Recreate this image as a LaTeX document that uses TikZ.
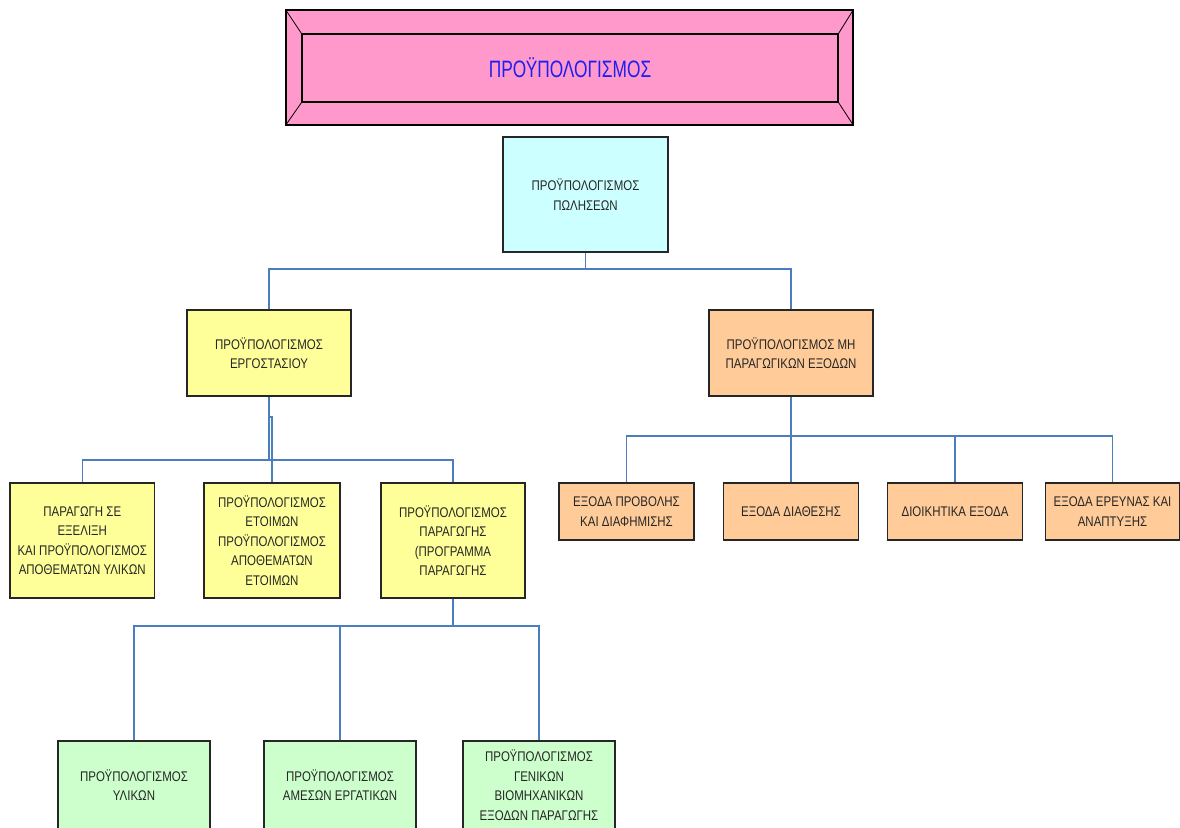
\documentclass[tikz,border=0pt]{standalone}
\usepackage{fontspec}
\setmainfont{Liberation Sans}
\newfontfamily\boxfont[FakeStretch=0.82]{Liberation Sans}
\newfontfamily\titlefont[FakeStretch=0.73]{Liberation Sans}
\definecolor{titlefill}{HTML}{FF99CC}
\definecolor{titletext}{HTML}{1E1EF0}
\definecolor{salesfill}{HTML}{CCFFFF}
\definecolor{factfill}{HTML}{FFFF99}
\definecolor{costfill}{HTML}{FFCC99}
\definecolor{prodfill}{HTML}{CCFFCC}
\definecolor{linkblue}{HTML}{4A7EBF}
\begin{document}
\begin{tikzpicture}[x=1pt,y=-1pt,
  box/.style={draw=black!85, line width=1.1pt, align=center, inner sep=0pt,
    font=\boxfont\fontsize{14}{19.5}\selectfont, text=black!85},
  link/.style={draw=linkblue, line width=1.1pt}]
\useasboundingbox (0,0) rectangle (1180,827);

% title panel with bevelled frame
\node[draw=black, line width=1.1pt, fill=titlefill, minimum width=567, minimum height=115, inner sep=0pt] (title) at (569.5,67.5) {};
\node[draw=black, line width=1.1pt, fill=titlefill, minimum width=536, minimum height=68, inner sep=0pt,
  font=\titlefont\fontsize{23.7}{28}\selectfont, text=titletext] (titlein) at (570,68) {ΠΡΟΫΠΟΛΟΓΙΣΜΟΣ};
\draw[black, line width=0.8pt] (title.north west) -- (titlein.north west)
  (title.north east) -- (titlein.north east)
  (title.south west) -- (titlein.south west)
  (title.south east) -- (titlein.south east);

% level 1
\node[box, fill=salesfill, minimum width=165, minimum height=115] (sales) at (585.5,194.5) {ΠΡΟΫΠΟΛΟΓΙΣΜΟΣ\\ΠΩΛΗΣΕΩΝ};

% level 2
\node[box, fill=factfill, minimum width=164, minimum height=86] (factory) at (269,353) {ΠΡΟΫΠΟΛΟΓΙΣΜΟΣ\\ΕΡΓΟΣΤΑΣΙΟΥ};
\node[box, fill=costfill, minimum width=164, minimum height=86] (nonprod) at (791,353) {ΠΡΟΫΠΟΛΟΓΙΣΜΟΣ ΜΗ\\ΠΑΡΑΓΩΓΙΚΩΝ ΕΞΟΔΩΝ};

% level 3, factory side
\node[box, fill=factfill, minimum width=144.5, minimum height=115] (wip) at (82.25,540.5) {ΠΑΡΑΓΩΓΗ ΣΕ\\ΕΞΕΛΙΞΗ\\ΚΑΙ ΠΡΟΫΠΟΛΟΓΙΣΜΟΣ\\ΑΠΟΘΕΜΑΤΩΝ ΥΛΙΚΩΝ};
\node[box, fill=factfill, minimum width=136, minimum height=115] (finished) at (272,540.5) {ΠΡΟΫΠΟΛΟΓΙΣΜΟΣ\\ΕΤΟΙΜΩΝ\\ΠΡΟΫΠΟΛΟΓΙΣΜΟΣ\\ΑΠΟΘΕΜΑΤΩΝ\\ΕΤΟΙΜΩΝ};
\node[box, fill=factfill, minimum width=144, minimum height=115] (production) at (453,540.5) {ΠΡΟΫΠΟΛΟΓΙΣΜΟΣ\\ΠΑΡΑΓΩΓΗΣ\\(ΠΡΟΓΡΑΜΜΑ\\ΠΑΡΑΓΩΓΗΣ};

% level 3, non-production costs
\node[box, fill=costfill, minimum width=135, minimum height=57] (promo) at (626.5,511.5) {ΕΞΟΔΑ ΠΡΟΒΟΛΗΣ\\ΚΑΙ ΔΙΑΦΗΜΙΣΗΣ};
\node[box, fill=costfill, minimum width=135, minimum height=57] (selling) at (791,511.5) {ΕΞΟΔΑ ΔΙΑΘΕΣΗΣ};
\node[box, fill=costfill, minimum width=135, minimum height=57] (admin) at (955,511.5) {ΔΙΟΙΚΗΤΙΚΑ ΕΞΟΔΑ};
\node[box, fill=costfill, minimum width=134, minimum height=57] (research) at (1112.5,511.5) {ΕΞΟΔΑ ΕΡΕΥΝΑΣ ΚΑΙ\\ΑΝΑΠΤΥΞΗΣ};

% level 4
\node[box, fill=prodfill, minimum width=152, minimum height=88] (materials) at (134,785) {ΠΡΟΫΠΟΛΟΓΙΣΜΟΣ\\ΥΛΙΚΩΝ};
\node[box, fill=prodfill, minimum width=152, minimum height=88] (labour) at (340,785) {ΠΡΟΫΠΟΛΟΓΙΣΜΟΣ\\ΑΜΕΣΩΝ ΕΡΓΑΤΙΚΩΝ};
\node[box, fill=prodfill, minimum width=152, minimum height=88] (overhead) at (539,785) {ΠΡΟΫΠΟΛΟΓΙΣΜΟΣ\\ΓΕΝΙΚΩΝ\\ΒΙΟΜΗΧΑΝΙΚΩΝ\\ΕΞΟΔΩΝ ΠΑΡΑΓΩΓΗΣ};

% connector junctions
\coordinate (bus1) at (585.5,269);
\coordinate (bus2) at (269,460);
\coordinate (jog) at (269,417);
\coordinate (bus3) at (791,436);
\coordinate (bus4) at (453,626);

% connectors
\draw[link] (sales.south) -- (bus1);
\draw[link] (factory.north) |- (bus1) -| (nonprod.north);

\draw[link] (factory.south) -- (bus2);
\draw[link] (wip.north) |- (bus2) -| (production.north);
\draw[link] (finished.north) -- (finished.north |- jog) -- (jog);

\draw[link] (nonprod.south) -- (bus3);
\draw[link] (promo.north) |- (bus3) -| (research.north);
\draw[link] (selling.north) -- (bus3);
\draw[link] (admin.north) -- (admin.north |- bus3);

\draw[link] (production.south) -- (bus4);
\draw[link] (materials.north) |- (bus4) -| (overhead.north);
\draw[link] (labour.north) -- (labour.north |- bus4);
\end{tikzpicture}
\end{document}
